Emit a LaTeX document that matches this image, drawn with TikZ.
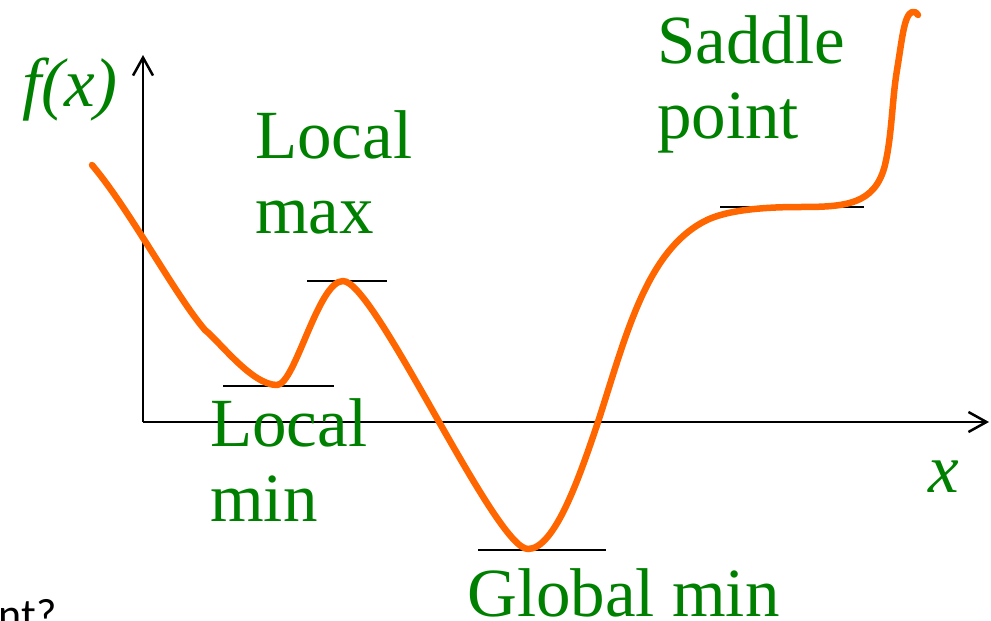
\documentclass[tikz,border=0pt]{standalone}
\usepackage{fontspec}
\setmainfont{Liberation Serif}
\newfontfamily\hintfont{Carlito}
\usetikzlibrary{arrows.meta, positioning}
\definecolor{curveorange}{HTML}{FF6600}
\definecolor{pointgreen}{HTML}{008000}

\begin{document}
\begin{tikzpicture}[x=1pt, y=-1pt,
    pointlabel/.style={text=pointgreen, inner sep=0pt, align=left, anchor=base west, font=\fontsize{69}{75}\selectfont},
    axisline/.style={draw=black, line width=2.5pt, -{Straight Barb[length=18pt, width=20pt]}},
    flatline/.style={draw=black, line width=2.2pt},
    fcurve/.style={draw=curveorange, line width=6.5pt, line cap=round, line join=round}]

    \useasboundingbox (0,0) rectangle (991,621);

    % axes
    \coordinate (origin) at (143,422);
    \coordinate (ytip) at (143,55);
    \coordinate (xtip) at (989,422);
    \draw [axisline] (origin) -- (ytip);
    \draw [axisline] (origin) -- (xtip);

    % horizontal tangents at the stationary points
    \coordinate (minL) at (223,386);  \coordinate (minR) at (334,386);
    \coordinate (maxL) at (307,281);  \coordinate (maxR) at (387,281);
    \coordinate (globL) at (478,550); \coordinate (globR) at (606,550);
    \coordinate (sadL) at (720,207);  \coordinate (sadR) at (864,207);
    \draw [flatline] (minL) -- (minR);
    \draw [flatline] (maxL) -- (maxR);
    \draw [flatline] (globL) -- (globR);
    \draw [flatline] (sadL) -- (sadR);

    % the function
    \draw [fcurve] (92,165)
        .. controls (130,210) and (175,295) .. (205,330)
        .. controls (220,342) and (252,385) .. (277,385)
        .. controls (295,385) and (318,281) .. (343,281)
        .. controls (375,281) and (495,549) .. (528,549)
        .. controls (555,549) and (580,475) .. (597,425)
        .. controls (625,340) and (645,250) .. (707,220)
        .. controls (730,209) and (770,207) .. (800,207)
        .. controls (845,207) and (875,205) .. (885,165)
        .. controls (892,135) and (892,100) .. (897,70)
        .. controls (902,40) and (904,15) .. (912,12)
        .. controls (915,11) and (917,13) .. (918,15);

    % labels (anchored at the baseline of the last line)
    \node [pointlabel] (fx) at (22,106) {\itshape f(x)};
    \node [pointlabel] (xlab) at (928,492) {\itshape x};
    \node [pointlabel] (locmax) at (255,233) {Local\\max};
    \node [pointlabel] (saddle) at (657,138) {Saddle\\point};
    \node [pointlabel] (locmin) at (210,521) {Local\\min};
    \node [pointlabel] (globmin) at (467,616) {Global min};
    \node [anchor=base east, inner sep=0pt, font=\hintfont\fontsize{44}{50}\selectfont] (hint) at (57,629) {nt?};
\end{tikzpicture}
\end{document}
